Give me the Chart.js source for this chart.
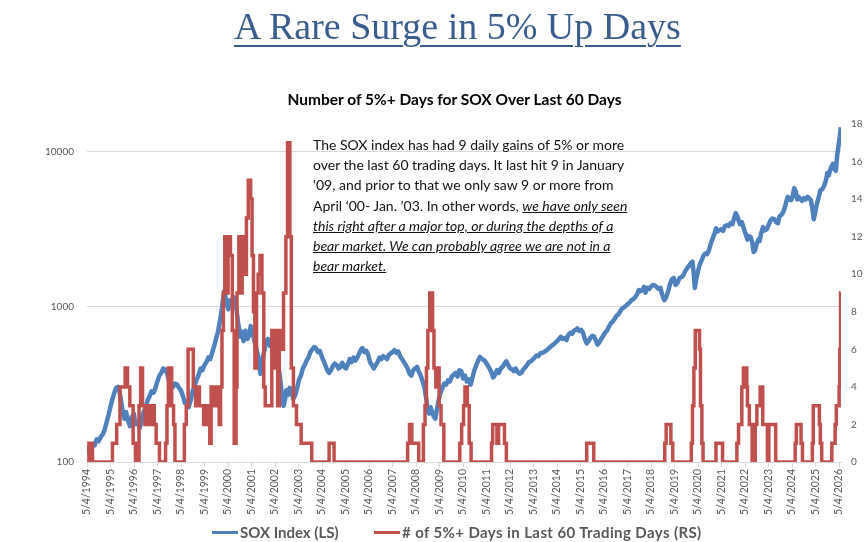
<!DOCTYPE html>
<html>
<head>
<meta charset="utf-8">
<script src="https://cdn.jsdelivr.net/npm/chart.js@4"></script>
<style>
  html, body { margin: 0; padding: 0; background: #ffffff; }
  #wrap { position: relative; width: 868px; height: 542px; overflow: hidden; background: #ffffff; }
  #c { position: absolute; left: 0; top: 0; }
  #mainTitle { position: absolute; left: 0; top: 4px; width: 915px; text-align: center;
    font-family: "Liberation Serif", serif; font-size: 38px; color: #3A5D8F; white-space: nowrap; }
  #mainTitle span { text-decoration: underline; text-decoration-thickness: 2px; text-underline-offset: 6px; }
  #chartTitle { position: absolute; left: 0; top: 90px; width: 909px; text-align: center;
    font-family: Lato, sans-serif; font-weight: bold; font-size: 15.5px; color: #000; white-space: nowrap; }
  #note { position: absolute; left: 313px; top: 135px; font-family: Lato, sans-serif; font-size: 14px;
    line-height: 20.2px; color: #111; white-space: nowrap; }
  #note em { font-style: italic; text-decoration: underline; }
  #legend { position: absolute; left: 0; top: 522px; width: 868px; height: 20px;
    font-family: Lato, sans-serif; font-weight: bold; font-size: 15px; color: #595959; }
  .sw { position: absolute; top: 9px; width: 26px; height: 3px; }
  .lt { position: absolute; top: 0; white-space: nowrap; line-height: 20px; }
</style>
</head>
<body>
<div id="wrap">
  <canvas id="c" width="868" height="542"></canvas>
  <div id="mainTitle"><span>A Rare Surge in 5% Up Days</span></div>
  <div id="chartTitle">Number of 5%+ Days for SOX Over Last 60 Days</div>
  <div id="note">The SOX index has had 9 daily gains of 5% or more<br>over the last 60 trading days. It last hit 9 in January<br>‘09, and prior to that we only saw 9 or more from<br>April ‘00- Jan. ’03. In other words, <em>we have only seen</em><br><em>this right after a major top, or during the depths of a</em><br><em>bear market. We can probably agree we are not in a</em><br><em>bear market.</em></div>
  <div id="legend">
    <span class="sw" style="left:212px;background:#4F81BD"></span>
    <span class="lt" id="lg1" style="left:240px">SOX Index (LS)</span>
    <span class="sw" style="left:374px;background:#C0504D"></span>
    <span class="lt" id="lg2" style="left:402px;letter-spacing:0.4px"># of 5%+ Days in Last 60 Trading Days (RS)</span>
  </div>
</div>
<script>
// ---- data (dates are decimal years) ----
const xTickLabels = ['5/4/1994','5/4/1995','5/4/1996','5/4/1997','5/4/1998','5/4/1999','5/4/2000','5/4/2001',
  '5/4/2002','5/4/2003','5/4/2004','5/4/2005','5/4/2006','5/4/2007','5/4/2008','5/4/2009','5/4/2010',
  '5/4/2011','5/4/2012','5/4/2013','5/4/2014','5/4/2015','5/4/2016','5/4/2017','5/4/2018','5/4/2019',
  '5/4/2020','5/4/2021','5/4/2022','5/4/2023','5/4/2024','5/4/2025','5/4/2026'];
const leftTicks = [100, 1000, 10000];
const rightTicks = [0, 2, 4, 6, 8, 10, 12, 14, 16, 18];

const soxDates = [1994.34,1994.42,1994.5,1994.58,1994.66,1994.75,1994.83,1994.92,1995.0,1995.08,1995.17,1995.25,1995.33,1995.42,1995.5,1995.58,1995.66,1995.72,1995.8,1995.87,1995.93,
1996.0,1996.08,1996.17,1996.25,1996.33,1996.4,1996.5,1996.58,1996.67,1996.75,1996.83,1996.92,
1997.0,1997.08,1997.17,1997.25,1997.33,1997.42,1997.5,1997.58,1997.66,1997.75,1997.83,1997.92,
1998.0,1998.08,1998.17,1998.25,1998.33,1998.42,1998.5,1998.58,1998.66,1998.75,1998.83,1998.92,
1999.0,1999.08,1999.17,1999.25,1999.33,1999.42,1999.5,1999.58,1999.67,1999.75,1999.83,1999.92,
2000.0,2000.08,2000.17,2000.22,2000.28,2000.35,2000.42,2000.5,2000.58,2000.64,2000.7,2000.78,2000.86,2000.92,
2001.0,2001.08,2001.17,2001.25,2001.3,2001.38,2001.46,2001.54,2001.62,2001.68,2001.72,2001.8,2001.88,2001.96,
2002.04,2002.12,2002.2,2002.28,2002.36,2002.44,2002.52,2002.58,2002.64,2002.7,2002.76,2002.82,2002.88,2002.96,
2003.04,2003.12,2003.2,2003.28,2003.36,2003.44,2003.52,2003.6,2003.68,2003.76,2003.84,2003.92,
2004.0,2004.08,2004.16,2004.24,2004.32,2004.4,2004.48,2004.56,2004.64,2004.72,2004.8,2004.88,2004.96,
2005.04,2005.12,2005.2,2005.28,2005.36,2005.44,2005.52,2005.6,2005.68,2005.76,2005.84,2005.92,
2006.0,2006.06,2006.14,2006.22,2006.3,2006.38,2006.46,2006.54,2006.62,2006.7,2006.78,2006.86,2006.94,
2007.02,2007.1,2007.18,2007.26,2007.34,2007.42,2007.5,2007.58,2007.66,2007.74,2007.82,2007.9,2007.98,
2008.06,2008.14,2008.22,2008.3,2008.38,2008.46,2008.54,2008.62,2008.7,2008.78,2008.84,2008.9,2008.96,
2009.02,2009.1,2009.16,2009.22,2009.3,2009.38,2009.46,2009.54,2009.62,2009.7,2009.78,2009.86,2009.94,
2010.02,2010.1,2010.18,2010.26,2010.34,2010.42,2010.5,2010.58,2010.66,2010.74,2010.82,2010.9,2010.98,
2011.06,2011.14,2011.22,2011.3,2011.38,2011.46,2011.54,2011.62,2011.7,2011.78,2011.86,2011.94,
2012.02,2012.1,2012.18,2012.26,2012.34,2012.42,2012.5,2012.58,2012.66,2012.74,2012.82,2012.9,2012.98,
2013.06,2013.14,2013.22,2013.3,2013.38,2013.46,2013.54,2013.62,2013.7,2013.78,2013.86,2013.94,
2014.02,2014.1,2014.18,2014.26,2014.34,2014.42,2014.5,2014.58,2014.66,2014.74,2014.82,2014.9,2014.98,
2015.06,2015.14,2015.2,2015.28,2015.36,2015.44,2015.52,2015.6,2015.68,2015.76,2015.84,2015.92,
2016.0,2016.06,2016.14,2016.22,2016.3,2016.38,2016.46,2016.54,2016.62,2016.7,2016.78,2016.86,2016.94,
2017.02,2017.1,2017.18,2017.26,2017.34,2017.42,2017.5,2017.58,2017.66,2017.74,2017.82,2017.9,2017.98,
2018.04,2018.1,2018.18,2018.26,2018.34,2018.42,2018.5,2018.58,2018.66,2018.74,2018.82,2018.9,2018.98,
2019.06,2019.14,2019.22,2019.3,2019.38,2019.46,2019.54,2019.62,2019.7,2019.78,2019.86,2019.94,
2020.02,2020.1,2020.16,2020.2,2020.26,2020.32,2020.4,2020.48,2020.56,2020.64,2020.72,2020.8,2020.88,2020.96,
2021.04,2021.1,2021.16,2021.24,2021.32,2021.4,2021.48,2021.56,2021.64,2021.72,2021.8,2021.88,2021.94,
2022.0,2022.06,2022.12,2022.2,2022.28,2022.36,2022.44,2022.5,2022.58,2022.64,2022.7,2022.76,2022.82,2022.9,2022.96,
2023.02,2023.1,2023.18,2023.26,2023.34,2023.42,2023.5,2023.58,2023.66,2023.74,2023.8,2023.88,2023.96,
2024.04,2024.1,2024.16,2024.22,2024.3,2024.36,2024.43,2024.5,2024.56,2024.62,2024.68,2024.76,2024.84,2024.92,
2025.0,2025.08,2025.14,2025.2,2025.26,2025.32,2025.38,2025.46,2025.54,2025.62,2025.7,2025.78,2025.84,2025.9,2025.96,
2026.02,2026.08,2026.14,2026.2,2026.26,2026.32,2026.37,2026.41];
const soxValues = [112,125,118,130,128,140,136,145,150,160,180,200,225,255,280,300,305,285,240,205,190,
210,185,170,195,205,175,180,165,190,210,225,250,
265,285,280,300,330,360,375,400,395,370,330,300,
305,320,315,300,290,265,240,245,225,250,285,310,
340,360,400,390,420,440,470,460,510,560,620,700,
820,980,1250,1180,1050,960,1100,1020,1150,1100,950,760,640,690,
600,700,620,660,750,690,600,540,480,400,370,450,520,600,
620,560,590,530,480,440,380,320,260,230,250,290,270,300,
280,255,270,300,340,360,400,420,450,470,510,530,
550,540,510,520,480,450,420,390,375,390,415,430,420,
400,410,435,410,400,430,460,440,470,450,470,500,
530,540,510,520,490,440,420,400,420,440,470,460,480,
470,460,490,500,510,525,505,515,480,460,440,420,400,
370,360,390,400,410,380,360,330,300,250,210,205,225,
210,195,190,215,250,280,300,320,315,335,330,355,365,
375,355,390,385,345,360,330,340,315,350,390,420,450,
475,460,455,440,420,400,380,350,365,390,375,400,
410,430,445,420,400,395,385,400,380,370,375,395,405,
420,440,445,455,470,485,480,500,505,510,520,530,
545,560,570,585,600,620,640,620,630,610,660,680,670,
700,710,725,700,710,680,620,580,600,630,650,640,
600,570,590,620,650,680,700,740,780,800,830,870,890,
930,970,990,1010,1040,1060,1100,1120,1150,1200,1280,1260,1290,
1340,1230,1320,1300,1350,1380,1370,1340,1300,1320,1180,1100,1150,
1250,1390,1500,1530,1380,1420,1520,1550,1580,1680,1760,1820,
1900,1950,1600,1320,1500,1650,1850,1970,2120,2200,2180,2300,2550,2750,
2950,3200,3050,3100,3150,3080,3300,3350,3300,3450,3400,3750,4000,
3850,3600,3400,3500,3200,2950,2700,2850,2800,2600,2250,2300,2500,2700,2650,
2950,3250,3100,3150,3350,3600,3700,3650,3500,3450,3800,3900,4050,
4400,4800,5100,4900,4850,5100,5800,5500,4900,5100,4950,4800,5000,4900,
5100,4950,4850,4300,3650,4000,4500,5000,5600,5700,6000,6500,7250,7000,7600,
8000,8300,7700,7500,9500,11000,12500,14300];

const countDates = [1994.34,1994.42,1994.57,1995.42,1995.6,1995.74,1995.96,1996.06,1996.16,1996.3,1996.4,
1996.55,1996.62,1996.7,1996.8,1996.88,1996.98,1997.1,1997.2,1997.28,1997.42,
1997.68,1997.74,1997.8,1997.94,1998.02,1998.08,
1998.48,1998.56,1998.64,1998.86,1998.96,1999.04,1999.12,1999.3,1999.42,1999.56,1999.62,1999.7,1999.8,1999.88,1999.96,
2000.02,2000.08,2000.14,2000.2,2000.28,2000.34,2000.44,2000.52,2000.6,2000.68,2000.72,2000.8,2000.88,2000.94,
2001.05,2001.12,2001.2,2001.3,2001.36,2001.42,2001.48,2001.55,2001.62,2001.7,2001.78,2001.86,2001.92,
2002.2,2002.3,2002.36,2002.45,2002.52,2002.62,2002.7,2002.8,2002.87,2002.97,2003.03,2003.12,2003.25,2003.45,2003.9,
2004.64,2004.85,
2007.98,2008.06,2008.16,2008.45,2008.65,2008.72,2008.78,2008.84,2008.92,2009.04,2009.1,2009.18,2009.24,2009.32,2009.4,2009.52,
2010.2,2010.28,2010.36,2010.42,2010.52,2010.6,2010.68,
2011.55,2011.6,2011.78,2011.85,2012.1,2012.18,
2015.6,2015.9,
2018.92,2018.98,2019.18,2019.26,
2020.05,2020.1,2020.16,2020.22,2020.4,2020.44,2020.5,2020.55,
2021.1,2021.38,
2021.99,2022.06,2022.2,2022.27,2022.41,2022.44,2022.52,2022.64,2022.77,2022.84,2022.98,2023.09,2023.29,2023.35,2023.64,
2024.47,2024.52,2024.72,2024.78,
2025.2,2025.24,2025.5,2025.54,2025.6,
2026.03,2026.17,2026.22,2026.34,2026.37,2026.4,2026.41];
const countValues = [0,1,0,1,2,4,5,4,3,1,0,
3,5,3,2,3,2,3,2,1,0,
1,3,5,3,2,0,
2,3,6,4,3,4,3,2,3,1,4,3,4,3,2,
4,7,9,12,9,12,11,7,1,4,9,12,9,12,
10,13,15,14,11,8,5,9,10,11,9,4,3,
7,5,7,3,7,6,9,12,17,12,5,3,2,1,0,
1,0,
1,2,1,0,2,3,5,7,9,7,5,4,5,3,2,0,
1,2,3,4,3,1,0,
1,2,1,2,1,0,
1,0,
1,2,1,0,
1,3,5,7,6,3,1,0,
1,0,
1,2,4,5,4,3,2,0,2,3,4,2,0,2,0,
1,2,1,0,
1,3,2,1,0,
1,2,3,4,6,9,9];

// ---- chart ----
const toDecimalYear = (label) => { const p = label.split('/'); return +p[2] + (123 / 365); };
const grey = '#595959';
const gridGrey = '#D9D9D9';

new Chart(document.getElementById('c').getContext('2d'), {
  type: 'line',
  data: {
    datasets: [
      {
        label: '# of 5%+ Days in Last 60 Trading Days (RS)',
        data: countDates.map((d, i) => ({ x: d, y: countValues[i] })),
        yAxisID: 'y2', borderColor: '#C0504D', backgroundColor: '#C0504D',
        borderWidth: 3.5, stepped: true, pointRadius: 0, order: 0
      },
      {
        label: 'SOX Index (LS)',
        data: soxDates.map((d, i) => ({ x: d, y: soxValues[i] })),
        yAxisID: 'y', borderColor: '#4F81BD', backgroundColor: '#4F81BD',
        borderWidth: 4.5, pointRadius: 0, tension: 0, borderJoinStyle: 'round', order: 1
      }
    ]
  },
  options: {
    responsive: false, animation: false, devicePixelRatio: 1,
    layout: { padding: { left: 0, right: 0, top: 124, bottom: 24 } },
    plugins: { legend: { display: false }, title: { display: false }, tooltip: { enabled: false } },
    scales: {
      x: {
        type: 'linear', min: toDecimalYear(xTickLabels[0]), max: 2026.42,
        afterBuildTicks: (ax) => { ax.ticks = xTickLabels.map(l => ({ value: toDecimalYear(l) })); },
        afterFit: (s) => { s.height = 56; },
        ticks: { autoSkip: false, maxRotation: 90, minRotation: 90, padding: 2, color: grey,
          font: { family: 'Lato', size: 10.5 }, callback: (v, i) => xTickLabels[i] },
        grid: { drawOnChartArea: false, drawTicks: true, tickLength: 5, color: gridGrey },
        border: { display: true, color: gridGrey }
      },
      y: {
        type: 'logarithmic', position: 'left', min: 100, max: 15000,
        afterBuildTicks: (ax) => { ax.ticks = leftTicks.map(v => ({ value: v })); },
        afterFit: (s) => { s.width = 87; },
        ticks: { padding: 13, color: grey, font: { family: 'Lato', size: 10 }, callback: (v) => String(v) },
        grid: { color: gridGrey, drawTicks: false, lineWidth: 1 },
        border: { display: false }
      },
      y2: {
        type: 'linear', position: 'right', min: 0, max: 18,
        afterBuildTicks: (ax) => { ax.ticks = rightTicks.map(v => ({ value: v })); },
        afterFit: (s) => { s.width = 27; },
        ticks: { padding: 10, color: grey, font: { family: 'Lato', size: 10 }, callback: (v) => String(v) },
        grid: { display: false, drawTicks: false },
        border: { display: false }
      }
    }
  }
});
</script>
</body>
</html>
